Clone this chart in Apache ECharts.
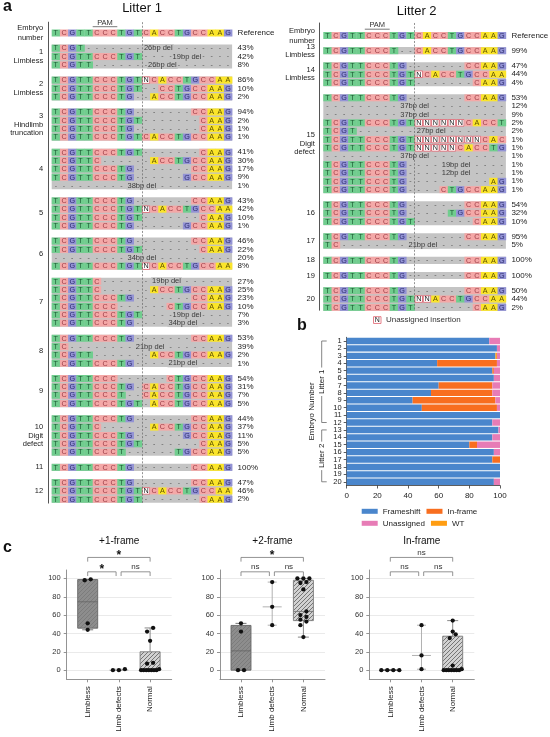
<!DOCTYPE html>
<html>
<head>
<meta charset="utf-8">
<script src="https://cdn.jsdelivr.net/npm/echarts@6/dist/echarts.min.js"></script>
<style>
  html, body { margin: 0; padding: 0; background: #fff; }
  #main { width: 550px; height: 737px; }
</style>
</head>
<body>
<div id="main"></div>
<script>
// ---------- panel a : amplicon alignments ----------
const REFERENCE = 'TCGTTCCCTGTCACCTGCCAAG';
const PAM = [5, 7];          // columns under the PAM bar
const CUT_SITE = 10.5;       // between column 10 and 11

// each read: [aligned sequence, % of reads, deletion note]
const E1 = [['TCGT------------------', 43, '26bp del'], ['TCGTTCCCTGT-----------', 42, '19bp del'], ['TCGTT-----------------', 8, '26bp del']];
const E2 = [['TCGTTCCCTGTNCACCTGCCAA', 86], ['TCGTTCCCTGT--CCTGCCAAG', 10], ['TCGTTCCCTG--ACCTGCCAAG', 2]];
const E3 = [['TCGTTCCCTG-------CCAAG', 94], ['TCGTTCCCTGT-------CAAG', 2], ['TCGTTCCCTG--------CAAG', 1], ['TCGTTCCCTGTCACCTGCCAAG', 1]];
const E4 = [['TCGTTCCCTGT-------CAAG', 41], ['TCGTTC------ACCTGCCAAG', 30], ['TCGTTCCCTG-------CCAAG', 17], ['TCGTTCCCTG------GCCAAG', 9], ['----------------------', 1, '38bp del']];
const E5 = [['TCGTTCCCTG-------CCAAG', 43], ['TCGTTCCCTGTNCACCTGCCAA', 42], ['TCGTTCCCTGT-------CAAG', 10], ['TCGTTCCCTG------GCCAAG', 1]];
const E6 = [['TCGTTCCCTG-------CCAAG', 46], ['TCGTTCCCTGT-------CAAG', 22], ['----------------------', 20, '34bp del'], ['TCGTTCCCTGTNCACCTGCCAA', 8]];
const E7 = [['TCGTTC----------------', 27, '19bp del'], ['TCGTTC------ACCTGCCAAG', 25], ['TCGTTCCCTG-------CCAAG', 23], ['TCGTTCCC------CTGCCAAG', 10], ['TCGTTCCCTGT-----------', 7, '19bp del'], ['TCGTTCCCTG------------', 3, '34bp del']];
const E8 = [['TCGTTCCCTG-------CCAAG', 53], ['TC--------------------', 39, '21bp del'], ['TCGTT-------ACCTGCCAAG', 2], ['TCGTTCCCTG------------', 1, '21bp del']];
const E9 = [['TCGTTCCC------CTGCCAAG', 54], ['TCGTTCCCTG-CACCTGCCAAG', 31], ['TCGTTCCCT--CACCTGCCAAG', 7], ['TCGTTCCCTGT-ACCTGCCAAG', 5]];
const E10 = [['TCGTTCCCTG-------CCAAG', 44], ['TCGTTC------ACCTGCCAAG', 37], ['TCGTTCCCTG------GCCAAG', 11], ['TCGTTCCCTGT-------CAAG', 5], ['TCGTTCCCT------TGCCAAG', 5]];
const E11 = [['TCGTTCCCTG-------CCAAG', 100]];
const E12 = [['TCGTTCCCTG-------CCAAG', 47], ['TCGTTCCCTGTNCACCTGCCAA', 46], ['TCGTTCCCTGT-------CAAG', 2]];
const E13 = [['TCGTTCCCT--CACCTGCCAAG', 99]];
const E14 = [['TCGTTCCCTG-------CCAAG', 47], ['TCGTTCCCTGTNCACCTGCCAA', 44], ['TCGTTCCCTGT-------CAAG', 4]];
const E15 = [['TCGTTCCCTG-------CCAAG', 53], ['----------------------', 12, '37bp del'], ['----------------------', 9, '37bp del'],
  ['TCGTTCCCTGTNNNNNNCACCT', 2], ['TCGT------------------', 2, '27bp del'], ['TCGTTCCCTGTNNNNNNNNCAC', 1], ['TCGTTCCCTGTNNNNNCACCTG', 1],
  ['----------------------', 1, '37bp del'], ['TCGTTCCCTG------------', 1, '19bp del'], ['TCGTTCCCTG------------', 1, '12bp del'],
  ['TCGTTCCCTG----------AG', 1], ['TCGTTCCCTG----CTGCCAAG', 1]];
const E16 = [['TCGTTCCCTG-------CCAAG', 54], ['TCGTTCCCTG-----TGCCAAG', 32], ['TCGTTCCCTGT-------CAAG', 10]];
const E17 = [['TCGTTCCCTG-------CCAAG', 95], ['TC--------------------', 5, '21bp del']];
const E18 = [['TCGTTCCCTG-------CCAAG', 100]];
const E19 = [['TCGTTCCCTG-------CCAAG', 100]];
const E20 = [['TCGTTCCCTG-------CCAAG', 50], ['TCGTTCCCTGTNNACCTGCCAA', 44], ['TCGTTCCCTGT-------CAAG', 2]];

const LITTER_1 = [E1, E2, E3, E4, E5, E6, E7, E8, E9, E10, E11, E12];
const LITTER_2 = [E13, E14, E15, E16, E17, E18, E19, E20];
const EMBRYO_IDS = ['1', '2', '3', '4', '5', '6', '7', '8', '9', '10', '11', '12', '13', '14', '15', '16', '17', '18', '19', '20'];
const PHENOTYPES = ['Limbless', 'Limbless', 'Hindlimb\ntruncation', '', '', '', '', '', '', 'Digit\ndefect', '', '',
  'Limbless', 'Limbless', 'Digit\ndefect', '', '', '', '', ''];

// ---------- panel b : allele classes per embryo (%) ----------
const FRAMESHIFT = [93, 98, 97, 59, 95, 96, 60, 55, 43, 49, 100, 95, 99, 95, 80, 96, 95, 100, 100, 96];
const IN_FRAME   = [0, 0, 0, 39, 1, 0, 35, 40, 54, 49, 0, 0, 0, 0, 5, 0, 5, 0, 0, 0];
const WT         = [0, 0, 1, 0, 0, 0, 0, 0, 0, 0, 0, 0, 0, 0, 0, 0, 0, 0, 0, 0];
const UNASSIGNED = [7, 2, 2, 2, 4, 4, 5, 5, 3, 2, 0, 5, 1, 5, 15, 4, 0, 0, 0, 4];
const LITTERS = [['Litter 1', 0, 11], ['Litter 2', 12, 19]];

// ---------- panel c : frame of alleles by phenotype (%) ----------
const GROUPS = ['Limbless', 'Limb defects', 'Normal'];
const FRAME1_LIMBLESS = [51, 98, 99, 44];
const FRAME1_DEFECTS = [1, 0, 0];
const FRAME1_NORMAL = [1, 42, 8, 0, 0, 7, 0, 46, 32, 0, 0, 0, 0];
const FRAME2_LIMBLESS = [42, 0, 0, 51];
const FRAME2_DEFECTS = [96, 49, 69];
const FRAME2_NORMAL = [58, 53, 88, 60, 55, 36, 100, 49, 64, 95, 100, 100, 96];
const INFRAME_LIMBLESS = [0, 0, 0, 0];
const INFRAME_DEFECTS = [1, 49, 16];
const INFRAME_NORMAL = [39, 1, 0, 35, 42, 54, 0, 0, 0, 5, 0, 0, 0];
const SIG_FRAME1 = [['*', 0, 2], ['*', 0, 1], ['ns', 1, 2]];
const SIG_FRAME2 = [['*', 0, 2], ['ns', 0, 1], ['ns', 1, 2]];
const SIG_INFRAME = [['ns', 0, 2], ['ns', 0, 1], ['ns', 1, 2]];

// ---------- styles ----------
const FONT = '"Liberation Sans", Arial, Helvetica, sans-serif';
const INK = '#222';
const BASE_FILL = { T: '#70cd8e', C: '#f4a8a7', G: '#9393d5', A: '#fbe52a' };
const BASE_INK = { T: '#1d5a33', C: '#9a3b45', G: '#2b2b6c', A: '#5e5200' };
const BLOCK_GRAY = '#c4c4c4';
const N_BORDER = '#e0606c';
const ROW_H = 8.35;
const GAP = 0.82;

const chart = echarts.init(document.getElementById('main'));

function txt(x, y, s, fill, size, align, extra) {
  return {
    type: 'text', x: x, y: y,
    style: Object.assign({
      text: s, fill: fill, font: size + 'px ' + FONT,
      align: align, verticalAlign: 'middle'
    }, extra || {})
  };
}

function layoutLitter(embryos, firstIndex) {
  const rows = [{ y: 0, seq: REFERENCE, pct: 'Reference', note: '', ref: true }];
  const blocks = [];
  let y = 0;
  embryos.forEach(function (reads, b) {
    y += 1 + GAP;
    const y0 = y;
    reads.forEach(function (r, i) {
      if (i) y += 1;
      rows.push({ y: y, seq: r[0], pct: r[1] + '%', note: r[2] || '' });
    });
    const k = firstIndex + b;
    const label = EMBRYO_IDS[k] + (PHENOTYPES[k] ? '\n' + PHENOTYPES[k] : '');
    blocks.push({ y0: y0, y1: y, label: label });
  });
  return { rows: rows, blocks: blocks, end: y };
}

const L1 = layoutLitter(LITTER_1, 0);
const L2 = layoutLitter(LITTER_2, 12);
L2.rows.push({ y: L2.end + 1.52, legendN: true });

function rowRenderer(rows) {
  return function (params, api) {
    const r = rows[api.value(1)];
    const w = api.size([1, 0])[0];
    const c0 = api.coord([0, r.y]);
    const left = c0[0] - w / 2;
    const cy = c0[1];
    const kids = [];
    if (r.legendN) {
      const x = left + 6 * w;
      kids.push({ type: 'rect', shape: { x: x + 0.4, y: cy - 3.4, width: w - 0.8, height: 6.8 }, style: { fill: '#fff', stroke: N_BORDER, lineWidth: 0.8 } });
      kids.push(txt(x + w / 2, cy, 'N', INK, 7, 'center'));
      kids.push(txt(left + 7 * w + 4.5, cy, 'Unassigned insertion', '#333', 8, 'left'));
      return { type: 'group', children: kids };
    }
    for (let c = 0; c < 22; c++) {
      const ch = r.seq[c];
      const x = left + c * w;
      const xc = x + w / 2;
      if (ch === '-') {
        kids.push(txt(xc, cy, '-', '#555', 7, 'center'));
      } else if (ch === 'N') {
        kids.push({ type: 'rect', shape: { x: x + 0.4, y: cy - 3.3, width: w - 0.8, height: 6.6 }, style: { fill: '#fff', stroke: N_BORDER, lineWidth: 0.8 } });
        kids.push(txt(xc, cy + 0.3, 'N', INK, 7.2, 'center'));
      } else {
        kids.push({ type: 'rect', shape: { x: x, y: cy - 3.5, width: w + 0.3, height: 7 }, style: { fill: BASE_FILL[ch] } });
        kids.push(txt(xc, cy + 0.3, ch, BASE_INK[ch], 7.2, 'center'));
      }
    }
    if (r.note) {
      const s = r.seq.search(/-+$/);
      kids.push(txt(left + (s + 22) / 2 * w, cy, r.note, '#3a3a3a', 7.5, 'center', { backgroundColor: BLOCK_GRAY, padding: [0, 1] }));
    }
    kids.push(txt(left + 22 * w + 5.5, cy, r.pct, INK, 8, 'left'));
    if (r.ref) {
      const a = left + PAM[0] * w, b = left + (PAM[1] + 1) * w;
      kids.push({ type: 'line', shape: { x1: a, y1: cy - 6.3, x2: b, y2: cy - 6.3 }, style: { stroke: '#555', lineWidth: 0.8 } });
      kids.push(txt((a + b) / 2, cy - 10.5, 'PAM', '#333', 7.5, 'center'));
      kids.push(txt(left - 8.5, cy, 'Embryo\nnumber', INK, 7.5, 'right', { lineHeight: 10 }));
    }
    return { type: 'group', children: kids };
  };
}

function blockRenderer(blocks) {
  return function (params, api) {
    const b = blocks[api.value(1)];
    const w = api.size([1, 0])[0];
    const p0 = api.coord([0, b.y0]);
    const p1 = api.coord([0, b.y1]);
    const left = p0[0] - w / 2;
    return {
      type: 'group',
      children: [
        { type: 'rect', shape: { x: left, y: p0[1] - 3.6, width: 22 * w, height: p1[1] - p0[1] + 7.2 }, style: { fill: BLOCK_GRAY } },
        txt(left - 8.5, (p0[1] + p1[1]) / 2, b.label, INK, 7.5, 'right', { lineHeight: 8.3 })
      ]
    };
  };
}

// ---------- box plot helpers ----------
const C_UNIT = 31.2;   // px per group on panel c
function quantile(sorted, p) {
  const n = sorted.length, pos = (n + 1) * p;
  if (pos <= 1) return sorted[0];
  if (pos >= n) return sorted[n - 1];
  const lo = Math.floor(pos);
  return sorted[lo - 1] + (pos - lo) * (sorted[lo] - sorted[lo - 1]);
}
function boxItem(vals, g) {
  const s = vals.slice().sort(function (a, b) { return a - b; });
  return [g, s[0], quantile(s, 0.25), quantile(s, 0.5), quantile(s, 0.75), s[s.length - 1]];
}
function swarm(vals, g) {
  const s = vals.slice().sort(function (a, b) { return a - b; });
  const out = [];
  let i = 0;
  while (i < s.length) {
    let j = i;
    while (j + 1 < s.length && s[j + 1] - s[i] <= 4) j++;
    const k = j - i + 1, step = k > 1 ? Math.min(6, 18 / (k - 1)) : 0;
    for (let m = 0; m < k; m++) out.push([g + (m - (k - 1) / 2) * step / C_UNIT, s[i + m]]);
    i = j + 1;
  }
  return out;
}
function hatch(bg, ink, step) {
  const c = document.createElement('canvas');
  c.width = c.height = step;
  const g = c.getContext('2d');
  g.fillStyle = bg;
  g.fillRect(0, 0, step, step);
  g.strokeStyle = ink;
  g.lineWidth = 0.9;
  g.beginPath();
  g.moveTo(0, step); g.lineTo(step, 0);
  g.moveTo(-1, 1); g.lineTo(1, -1);
  g.moveTo(step - 1, step + 1); g.lineTo(step + 1, step - 1);
  g.stroke();
  return c;
}
const BOX_STYLES = [
  { box: { type: 'pattern', image: hatch('#8d8d8d', '#7b7b7b', 4), repeat: 'repeat' }, line: '#666', med: 20, cap: 11 },
  { box: null, line: '#a8a8a8', med: 19, cap: 9 },
  { box: { type: 'pattern', image: hatch('#d2d2d2', '#6a6a6a', 4), repeat: 'repeat' }, line: '#7a7a7a', med: 20, cap: 11 }
];
function renderBox(params, api) {
  const g = api.value(0);
  const st = BOX_STYLES[g];
  const x = api.coord([g, 0])[0];
  const y = function (v) { return api.coord([g, v])[1]; };
  const mn = y(api.value(1)), q1 = y(api.value(2)), md = y(api.value(3)), q3 = y(api.value(4)), mx = y(api.value(5));
  const ln = function (x1, y1, x2, y2) { return { type: 'line', shape: { x1: x1, y1: y1, x2: x2, y2: y2 }, style: { stroke: st.line, lineWidth: 0.9 } }; };
  const kids = [ln(x, mn, x, mx), ln(x - st.cap / 2, mn, x + st.cap / 2, mn), ln(x - st.cap / 2, mx, x + st.cap / 2, mx)];
  if (st.box) kids.push({ type: 'rect', shape: { x: x - 10, y: q3, width: 20, height: q1 - q3 }, style: { fill: st.box, stroke: st.line, lineWidth: 0.9 } });
  kids.push(ln(x - st.med / 2, md, x + st.med / 2, md));
  return { type: 'group', children: kids };
}
function sigRenderer(sig) {
  return function (params, api) {
    const s = sig[api.value(0)];
    const upper = s[2] - s[1] === 2;
    const v = upper ? 122.9 : 107.2;
    const a = s[1] + (!upper && s[1] === 1 ? 0.07 : 0);
    const b = s[2] - (!upper && s[2] === 1 ? 0.09 : 0);
    const p = api.coord([a, v]), q = api.coord([b, v]);
    const st = { stroke: '#777', lineWidth: 0.8, fill: null };
    const kids = [
      { type: 'polyline', shape: { points: [[p[0], p[1] + 4.2], [p[0], p[1]], [q[0], p[1]], [q[0], p[1] + 4.2]] }, style: st }
    ];
    const mid = (p[0] + q[0]) / 2;
    if (s[0] === '*') kids.push(txt(mid, p[1] - 2.2, '*', '#111', 11, 'center', { fontWeight: 'bold', font: 'bold 11px ' + FONT }));
    else kids.push(txt(mid, p[1] - 5, 'ns', '#333', 8, 'center'));
    return { type: 'group', children: kids };
  };
}

// ---------- layout ----------
const A_GRIDS = [
  { left: 51.7, colW: 8.2, ref: 33, min: -1.3, max: 56.3, lay: L1 },
  { left: 323.3, colW: 8.3, ref: 35.5, min: -1.5, max: 32.9, lay: L2 }
];
const C_LEFTS = [66.7, 220, 369.3];
const C_TITLES = ['+1-frame', '+2-frame', 'In-frame'];
const C_DATA = [
  [FRAME1_LIMBLESS, FRAME1_DEFECTS, FRAME1_NORMAL],
  [FRAME2_LIMBLESS, FRAME2_DEFECTS, FRAME2_NORMAL],
  [INFRAME_LIMBLESS, INFRAME_DEFECTS, INFRAME_NORMAL]
];
const C_SIG = [SIG_FRAME1, SIG_FRAME2, SIG_INFRAME];
const C_W = 105, C_TOP = 570, C_H = 109.3;
const C_XMIN = -0.673, C_XMAX = C_XMIN + C_W / C_UNIT;
const C_YMIN = -10, C_YMAX = C_YMIN + C_H / 0.917;

const grid = [], xAxis = [], yAxis = [], series = [];
const noAxis = { axisLine: { show: false }, axisTick: { show: false }, axisLabel: { show: false }, splitLine: { show: false } };

A_GRIDS.forEach(function (g, i) {
  grid.push({ left: g.left, top: g.ref + g.min * ROW_H, width: 22 * g.colW, height: (g.max - g.min) * ROW_H, outerBoundsMode: 'none' });
  xAxis.push(Object.assign({ gridIndex: i, type: 'value', min: -0.5, max: 21.5 }, noAxis));
  yAxis.push({
    gridIndex: i, type: 'value', inverse: true, min: g.min, max: g.max, offset: 3.7,
    axisLine: { show: true, onZero: false, lineStyle: { color: '#555', width: 1 } },
    axisTick: { show: false }, axisLabel: { show: false }, splitLine: { show: false }
  });
  series.push({
    type: 'custom', xAxisIndex: i, yAxisIndex: i, z: 1, clip: false, silent: true,
    renderItem: blockRenderer(g.lay.blocks),
    data: g.lay.blocks.map(function (b, k) { return [b.y0, k]; })
  });
  series.push({
    type: 'custom', xAxisIndex: i, yAxisIndex: i, z: 2, clip: false, silent: true,
    renderItem: rowRenderer(g.lay.rows),
    data: g.lay.rows.map(function (r, k) { return [r.y, k]; })
  });
  series.push({
    type: 'line', xAxisIndex: i, yAxisIndex: i, data: [], z: 3, silent: true,
    markLine: {
      silent: true, symbol: ['none', 'none'], label: { show: false }, animation: false,
      lineStyle: { type: [2, 1.6], color: '#666', width: 0.7 },
      data: [{ xAxis: CUT_SITE }]
    }
  });
});

// panel b
grid.push({ left: 346.7, top: 337.3, width: 153.3, height: 148.2, outerBoundsMode: 'none' });
xAxis.push({
  gridIndex: 2, type: 'value', min: 0, max: 100, interval: 20,
  axisLine: { show: true, onZero: false, lineStyle: { color: '#333', width: 0.8 } },
  axisTick: { show: true, length: 3, lineStyle: { color: '#333', width: 0.8 } },
  axisLabel: { fontSize: 8, color: INK, margin: 6, fontFamily: FONT },
  splitLine: { show: false }
});
yAxis.push({
  gridIndex: 2, type: 'category', data: EMBRYO_IDS, inverse: true,
  name: 'Embryo Number', nameLocation: 'middle', nameGap: 31, nameRotate: 90,
  nameTextStyle: { fontSize: 8, color: INK, fontFamily: FONT },
  axisLine: { show: true, onZero: false, lineStyle: { color: '#333', width: 0.8 } },
  axisTick: { show: true, alignWithLabel: true, interval: 0, length: 3, lineStyle: { color: '#333', width: 0.8 } },
  axisLabel: { fontSize: 7.5, color: INK, margin: 5, interval: 0, fontFamily: FONT },
  splitLine: { show: false }
});
const BAR_COLORS = { 'Frameshift': '#4a86cc', 'In-frame': '#f86e1f', 'WT': '#ff9d12', 'Unassigned': '#e77cb6' };
[['Frameshift', FRAMESHIFT], ['In-frame', IN_FRAME], ['WT', WT], ['Unassigned', UNASSIGNED]].forEach(function (s) {
  series.push({
    type: 'bar', name: s[0], stack: 'reads', xAxisIndex: 2, yAxisIndex: 2,
    barWidth: 6.4, itemStyle: { color: BAR_COLORS[s[0]] }, data: s[1], silent: true
  });
});
series.push({
  type: 'custom', xAxisIndex: 2, yAxisIndex: 2, clip: false, silent: true, z: 5,
  data: LITTERS.map(function (l, k) { return [k, l[1], l[2]]; }),
  renderItem: function (params, api) {
    const l = LITTERS[api.value(0)];
    const t = api.coord([0, l[1]]), b = api.coord([0, l[2]]);
    const x = t[0] - 25;
    const st = { stroke: '#666', lineWidth: 0.8, fill: null };
    return {
      type: 'group', children: [
        { type: 'polyline', shape: { points: [[x + 5, t[1]], [x, t[1]], [x, b[1]], [x + 5, b[1]]] }, style: st },
        { type: 'text', x: x + 0.5, y: (t[1] + b[1]) / 2, rotation: Math.PI / 2,
          style: { text: l[0], fill: INK, font: '8px ' + FONT, align: 'center', verticalAlign: 'middle', backgroundColor: '#fff', padding: [0, 2] } }
      ]
    };
  }
});

// panel c
C_LEFTS.forEach(function (left, i) {
  const gi = 3 + i;
  grid.push({ left: left, top: C_TOP, width: C_W, height: C_H, outerBoundsMode: 'none' });
  xAxis.push({
    gridIndex: gi, type: 'value', min: C_XMIN, max: C_XMAX,
    axisLine: { show: true, onZero: false, lineStyle: { color: '#888', width: 0.9 } },
    axisTick: { show: true, length: 3, customValues: [0, 1, 2], lineStyle: { color: '#888', width: 0.9 } },
    axisLabel: { customValues: [0, 1, 2], rotate: 90, fontSize: 8, color: INK, margin: 7, fontFamily: FONT,
      formatter: function (v) { return GROUPS[Math.round(v)]; } },
    splitLine: { show: false }
  });
  yAxis.push({
    gridIndex: gi, type: 'value', min: C_YMIN, max: C_YMAX,
    axisLine: { show: true, onZero: false, lineStyle: { color: '#888', width: 0.9 } },
    axisTick: { show: true, length: 3, customValues: [0, 20, 40, 60, 80, 100], lineStyle: { color: '#888', width: 0.9 } },
    axisLabel: { customValues: [0, 20, 40, 60, 80, 100], fontSize: 7.5, color: '#333', margin: 6, fontFamily: FONT },
    splitLine: { show: true, lineStyle: { color: '#e4e4e4', width: 0.8 } }
  });
  series.push({
    type: 'custom', xAxisIndex: gi, yAxisIndex: gi, clip: false, silent: true, z: 2,
    renderItem: renderBox,
    data: C_DATA[i].map(function (vals, g) { return boxItem(vals, g); })
  });
  series.push({
    type: 'scatter', xAxisIndex: gi, yAxisIndex: gi, z: 4, silent: true,
    symbolSize: 4.3, itemStyle: { color: '#111', opacity: 1 },
    data: [].concat.apply([], C_DATA[i].map(function (vals, g) { return swarm(vals, g); }))
  });
  series.push({
    type: 'custom', xAxisIndex: gi, yAxisIndex: gi, clip: false, silent: true, z: 4,
    renderItem: sigRenderer(C_SIG[i]),
    data: C_SIG[i].map(function (s, k) { return [k, s[1]]; })
  });
});

const titleStyle = function (size, bold) { return { fontSize: size, fontWeight: bold ? 'bold' : 'normal', color: '#111', fontFamily: FONT }; };
const title = [
  { text: 'a', left: 3, top: -1, padding: 0, textStyle: titleStyle(16, true) },
  { text: 'Litter 1', left: 142, top: 2, padding: 0, textAlign: 'center', textStyle: titleStyle(13) },
  { text: 'Litter 2', left: 416.7, top: 4.5, padding: 0, textAlign: 'center', textStyle: titleStyle(13) },
  { text: 'b', left: 297, top: 318, padding: 0, textStyle: titleStyle(16, true) },
  { text: 'c', left: 3, top: 540, padding: 0, textStyle: titleStyle(16, true) }
];
C_LEFTS.forEach(function (left, i) {
  title.push({ text: C_TITLES[i], left: left + C_W / 2, top: 536.5, padding: 0, textAlign: 'center', textStyle: titleStyle(10) });
});

const legendBase = {
  left: 361.7, orient: 'horizontal', itemWidth: 16, itemHeight: 5, itemGap: 6, padding: 0,
  icon: 'rect', selectedMode: false,
  textStyle: { fontSize: 8, color: INK, width: 58, fontFamily: FONT }
};

chart.setOption({
  animation: false,
  textStyle: { fontFamily: FONT },
  title: title,
  legend: [
    Object.assign({}, legendBase, { top: 507.3, data: ['Frameshift', 'In-frame'] }),
    Object.assign({}, legendBase, { top: 519.3, data: ['Unassigned', 'WT'] })
  ],
  grid: grid,
  xAxis: xAxis,
  yAxis: yAxis,
  series: series
});
</script>
</body>
</html>
